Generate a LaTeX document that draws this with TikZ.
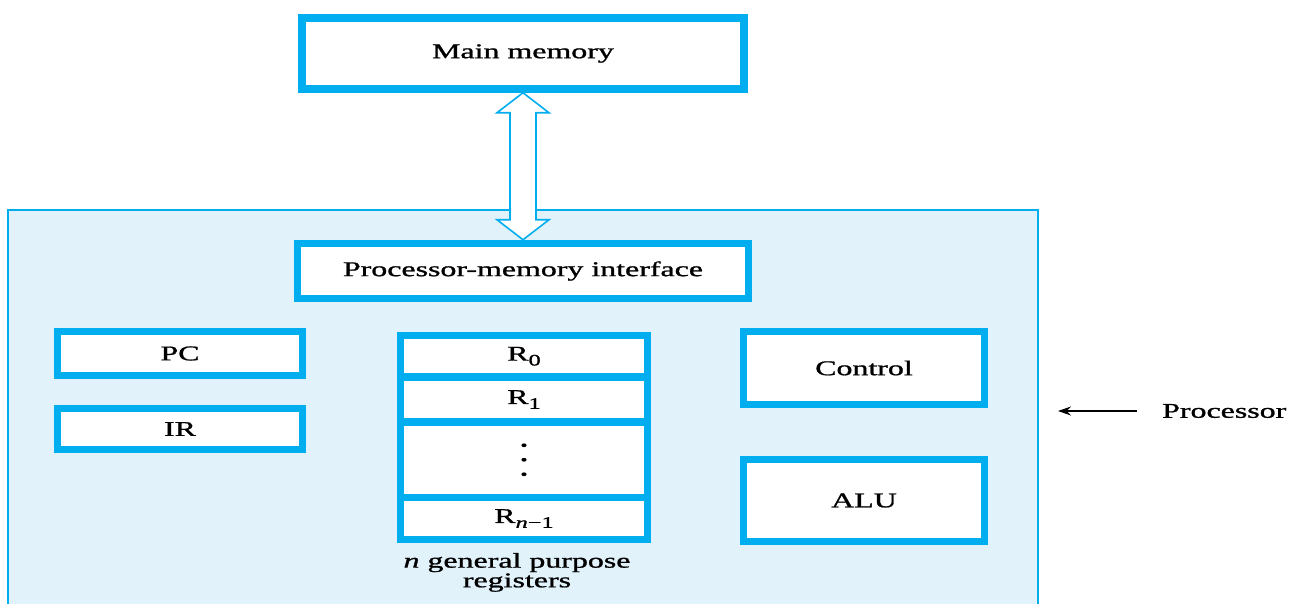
\documentclass[tikz,border=0pt]{standalone}
\usepackage{fontspec}
\setmainfont{Liberation Serif}[FakeBold=0.9]
\usetikzlibrary{arrows.meta,calc}
\definecolor{cyanline}{HTML}{00AEEF}
\definecolor{procfill}{HTML}{E1F2FB}
\newcommand\wtxt[1]{\scalebox{1.52}[1]{#1}}
\newcommand\rsub[1]{\raisebox{-0.5ex}{\fontsize{16}{16}\selectfont #1}}
\tikzset{
  unitbox/.style={draw=cyanline, line width=7.5pt, fill=white, inner sep=0pt,
    font=\fontsize{21}{19}\selectfont},
  regcell/.style={unitbox, minimum width=247pt},
  plain/.style={inner sep=0pt, font=\fontsize{21}{19}\selectfont},
  busarrow/.style={draw=cyanline, line width=1.6pt, fill=white, line join=miter},
}
\begin{document}
\begin{tikzpicture}[x=1pt,y=-1pt]
  \useasboundingbox (0,0) rectangle (1299,603);

  % processor area
  \fill[procfill] (8,210) rectangle (1038,610);
  \draw[cyanline, line width=1.3pt] (8,610) -- (8,210) -- (1038,210) -- (1038,610);

  % memory and interface
  \node[unitbox, minimum width=442pt, minimum height=71pt] (mm) at (523,53.5) {\wtxt{Main memory}};
  \node[unitbox, minimum width=451pt, minimum height=55pt] (pmi) at (523,271) {\wtxt{Processor-memory interface}};

  % bidirectional bus between them
  \path[busarrow] (mm.south) -- ($(mm.south)+(26,20)$) -- ($(mm.south)+(13,20)$)
      -- ($(pmi.north)+(13,-20)$) -- ($(pmi.north)+(26,-20)$) -- (pmi.north)
      -- ($(pmi.north)+(-26,-20)$) -- ($(pmi.north)+(-13,-20)$)
      -- ($(mm.south)+(-13,20)$) -- ($(mm.south)+(-26,20)$) -- cycle;

  % special registers
  \node[unitbox, minimum width=245pt, minimum height=44pt] (pc) at (180,353.5) {\wtxt{PC}};
  \node[unitbox, minimum width=245pt, minimum height=41pt] (ir) at (180,429) {\wtxt{IR}};

  % general purpose register file
  \node[regcell, minimum height=41.5pt] (r0) at (524,356.25) {\wtxt{R\rsub{0}}};
  \node[regcell, minimum height=45pt] (r1) at (524,399.5) {\wtxt{R\rsub{1}}};
  \node[regcell, minimum height=75.5pt] (rdots) at (524,459.75) {};
  \node[regcell, minimum height=42pt] (rn) at (524,518.5) {\wtxt{R\rsub{\textit{n}−1}}};
  \foreach \dy in {-14.5,0,14.5}
    \fill ($(rdots.center)+(0,\dy)$) ellipse (2.6pt and 1.9pt);
  \node[plain] (gplabel) at (517,573) {\wtxt{\begin{tabular}{@{}c@{}}\textit{n} general purpose\\registers\end{tabular}}};

  % control and ALU
  \node[unitbox, minimum width=241pt, minimum height=73pt] (ctrl) at (864,368) {\wtxt{Control}};
  \node[unitbox, minimum width=241pt, minimum height=82pt] (alu) at (864,500.5) {\wtxt{ALU}};

  % processor label
  \node[plain, anchor=west] (proc) at (1162,411) {\wtxt{Processor}};
  \coordinate (ptip) at (1058,411);
  \draw[line width=1.3pt, -{Stealth[length=13pt,width=9pt]}, shorten <=25pt] (proc.west) -- (ptip);
\end{tikzpicture}
\end{document}
